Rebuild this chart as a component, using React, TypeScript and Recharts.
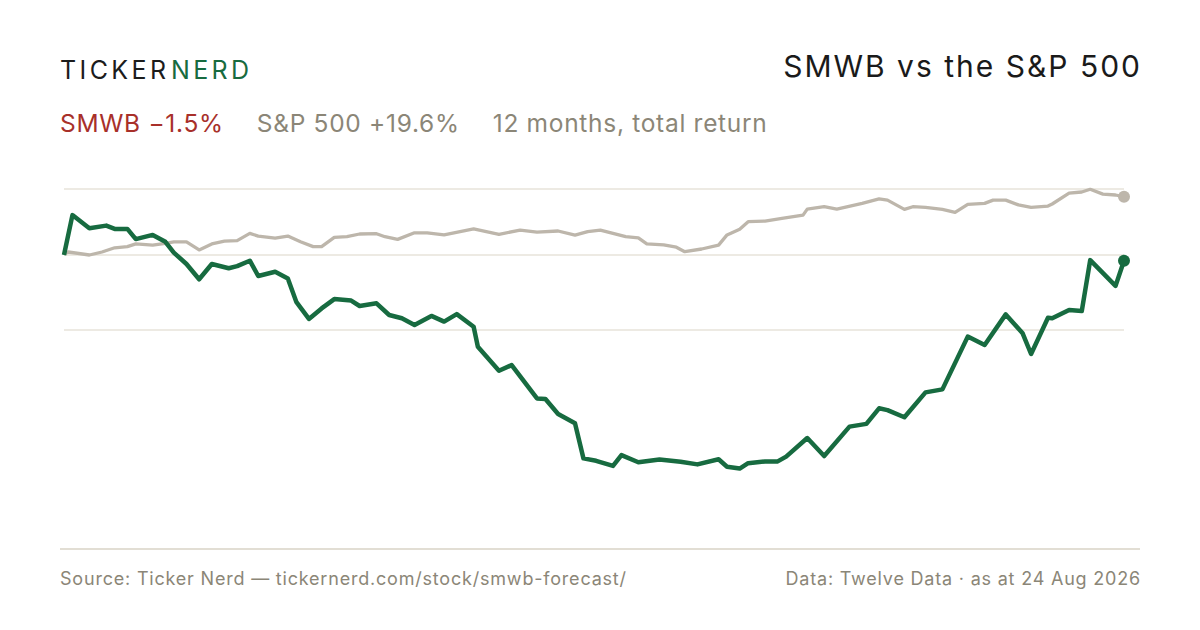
import { LineChart, Line, XAxis, YAxis, ReferenceLine, ReferenceDot } from 'recharts'

// trading day (0..251) and 12-month return in %
const smwbDay = [
  0, 2, 6, 10, 12, 15, 17, 21, 24, 26, 29, 32, 35, 39, 41, 44, 46, 50, 53, 55, 58, 61, 64, 68, 70,
  74, 77, 80, 83, 87, 90, 93, 97, 98, 103, 106, 112, 114, 117, 121, 123, 126, 130, 132, 136, 141,
  146, 150, 155, 157, 160, 162, 166, 169, 171, 176, 180, 186, 190, 193, 195, 199, 204, 208, 214,
  218, 223, 227, 229, 233, 234, 238, 241, 243, 249, 251,
]
const smwbReturn = [
  0, 13.3, 8.9, 9.8, 8.7, 8.7, 5.3, 6.7, 4.4, 0.8, -3.0, -8.1, -3.0, -4.4, -3.7, -1.9, -7.0, -5.6,
  -7.8, -15.6, -21.3, -17.8, -14.7, -15.2, -17.0, -16.1, -20.0, -21.1, -23.3, -20.3, -22.2, -19.7,
  -23.9, -30.6, -38.6, -36.7, -47.8, -48.0, -53.0, -56.1, -67.8, -68.6, -70.3, -66.7, -69.1, -68.2,
  -68.9, -69.8, -68.1, -70.6, -71.2, -69.4, -68.8, -68.8, -67.2, -61.0, -67.0, -57.2, -56.3, -51.1,
  -51.7, -54.1, -45.8, -44.8, -27.2, -30.0, -19.8, -26.1, -33.0, -20.9, -21.1, -18.3, -18.7, -1.7,
  -10.3, -1.9,
]

const spxDay = [
  0, 1, 6, 9, 12, 15, 17, 21, 24, 26, 29, 32, 35, 38, 41, 44, 46, 50, 53, 56, 59, 61, 64, 67, 70,
  74, 76, 79, 83, 86, 90, 97, 103, 108, 112, 117, 121, 124, 127, 130, 133, 136, 138, 142, 145, 147,
  151, 155, 157, 160, 162, 166, 170, 175, 176, 180, 183, 189, 193, 195, 199, 201, 204, 208, 211,
  214, 218, 220, 223, 226, 229, 233, 234, 238, 241, 243, 246, 249, 251,
]
const spxReturn = [
  0.3, 1.0, 0, 1.0, 2.4, 2.8, 3.7, 3.3, 3.9, 4.4, 4.4, 1.7, 3.7, 4.6, 4.8, 7.2, 6.3, 5.6, 6.3, 4.4,
  2.8, 2.8, 5.9, 6.1, 7.0, 7.1, 6.1, 5.2, 7.4, 7.4, 6.7, 8.7, 6.9, 8.3, 7.6, 8.0, 6.6, 7.8, 8.3, 7.2,
  6.1, 5.7, 3.7, 3.4, 2.6, 1.1, 2.0, 3.3, 6.7, 8.6, 11.1, 11.3, 12.2, 13.3, 15.3, 16.1, 15.3, 17.2,
  18.7, 18.3, 15.2, 16.1, 15.9, 15.2, 14.2, 16.9, 17.2, 18.3, 18.3, 16.7, 15.9, 16.3, 17.0, 20.6,
  21.0, 21.9, 20.3, 20.0, 19.4,
]

const gridValues = [22, 0, -25]

const GREEN = '#176b40'
const SAND = '#bdb6ab'
const MUTED = '#8b8677'
const FONT = 'Inter, "Noto Sans", sans-serif'

const smwbData = smwbDay.map((day, i) => ({ day, value: smwbReturn[i] }))
const spxData = spxDay.map((day, i) => ({ day, value: spxReturn[i] }))

function Text({ top, left, right, size, color, children, style }: any) {
  return (
    <div
      style={{
        position: 'absolute',
        top,
        left,
        right,
        fontSize: size,
        lineHeight: 1,
        color,
        whiteSpace: 'nowrap',
        ...style,
      }}
    >
      {children}
    </div>
  )
}

export default function App() {
  const lastSmwb = smwbData[smwbData.length - 1]
  const lastSpx = spxData[spxData.length - 1]

  return (
    <div
      style={{
        position: 'absolute',
        left: 0,
        top: 0,
        width: 1200,
        height: 630,
        background: '#ffffff',
        fontFamily: FONT,
        overflow: 'hidden',
      }}
    >
      <Text top={58} left={60} size={25} color="#1c1c1c" style={{ letterSpacing: 3.4 }}>
        TICKER<span style={{ color: GREEN, marginLeft: 1.5 }}>NERD</span>
      </Text>
      <Text top={51} right={58} size={30} color="#1a1a1a" style={{ letterSpacing: 2 }}>
        SMWB vs the S&amp;P 500
      </Text>

      <div
        style={{
          position: 'absolute',
          top: 111,
          left: 60,
          display: 'flex',
          gap: 33,
          fontSize: 24.5,
          lineHeight: 1,
          letterSpacing: 0.7,
          whiteSpace: 'nowrap',
        }}
      >
        <span style={{ color: '#a8302a' }}>SMWB −1.5%</span>
        <span style={{ color: MUTED }}>S&amp;P 500 +19.6%</span>
        <span style={{ color: MUTED }}>12 months, total return</span>
      </div>

      <div style={{ position: 'absolute' }}>
        <LineChart width={1200} height={630} margin={{ top: 180, right: 76, bottom: 150, left: 64 }}>
          <XAxis type="number" dataKey="day" domain={[0, 251]} hide allowDuplicatedCategory={false} />
          <YAxis type="number" dataKey="value" domain={[-75, 25]} hide />
          {gridValues.map((v) => (
            <ReferenceLine key={v} y={v} stroke="#e7e3da" strokeWidth={1.5} />
          ))}
          <Line
            data={spxData}
            dataKey="value"
            type="linear"
            stroke={SAND}
            strokeWidth={3.3}
            strokeLinejoin="round"
            dot={false}
            activeDot={false}
            isAnimationActive={false}
          />
          <Line
            data={smwbData}
            dataKey="value"
            type="linear"
            stroke={GREEN}
            strokeWidth={4.5}
            strokeLinejoin="round"
            dot={false}
            activeDot={false}
            isAnimationActive={false}
          />
          <ReferenceDot x={lastSpx.day} y={lastSpx.value} r={6} fill={SAND} stroke="none" />
          <ReferenceDot x={lastSmwb.day} y={lastSmwb.value} r={6} fill={GREEN} stroke="none" />
        </LineChart>
      </div>

      <div
        style={{
          position: 'absolute',
          top: 548,
          left: 60,
          width: 1080,
          height: 1.5,
          background: '#e2ded4',
        }}
      />
      <Text top={570} left={60} size={18} color={MUTED} style={{ letterSpacing: 0.8 }}>
        Source: Ticker Nerd — tickernerd.com/stock/smwb-forecast/
      </Text>
      <Text top={570} right={59} size={18} color={MUTED} style={{ letterSpacing: 0.8 }}>
        Data: Twelve Data · as at 24 Aug 2026
      </Text>
    </div>
  )
}
